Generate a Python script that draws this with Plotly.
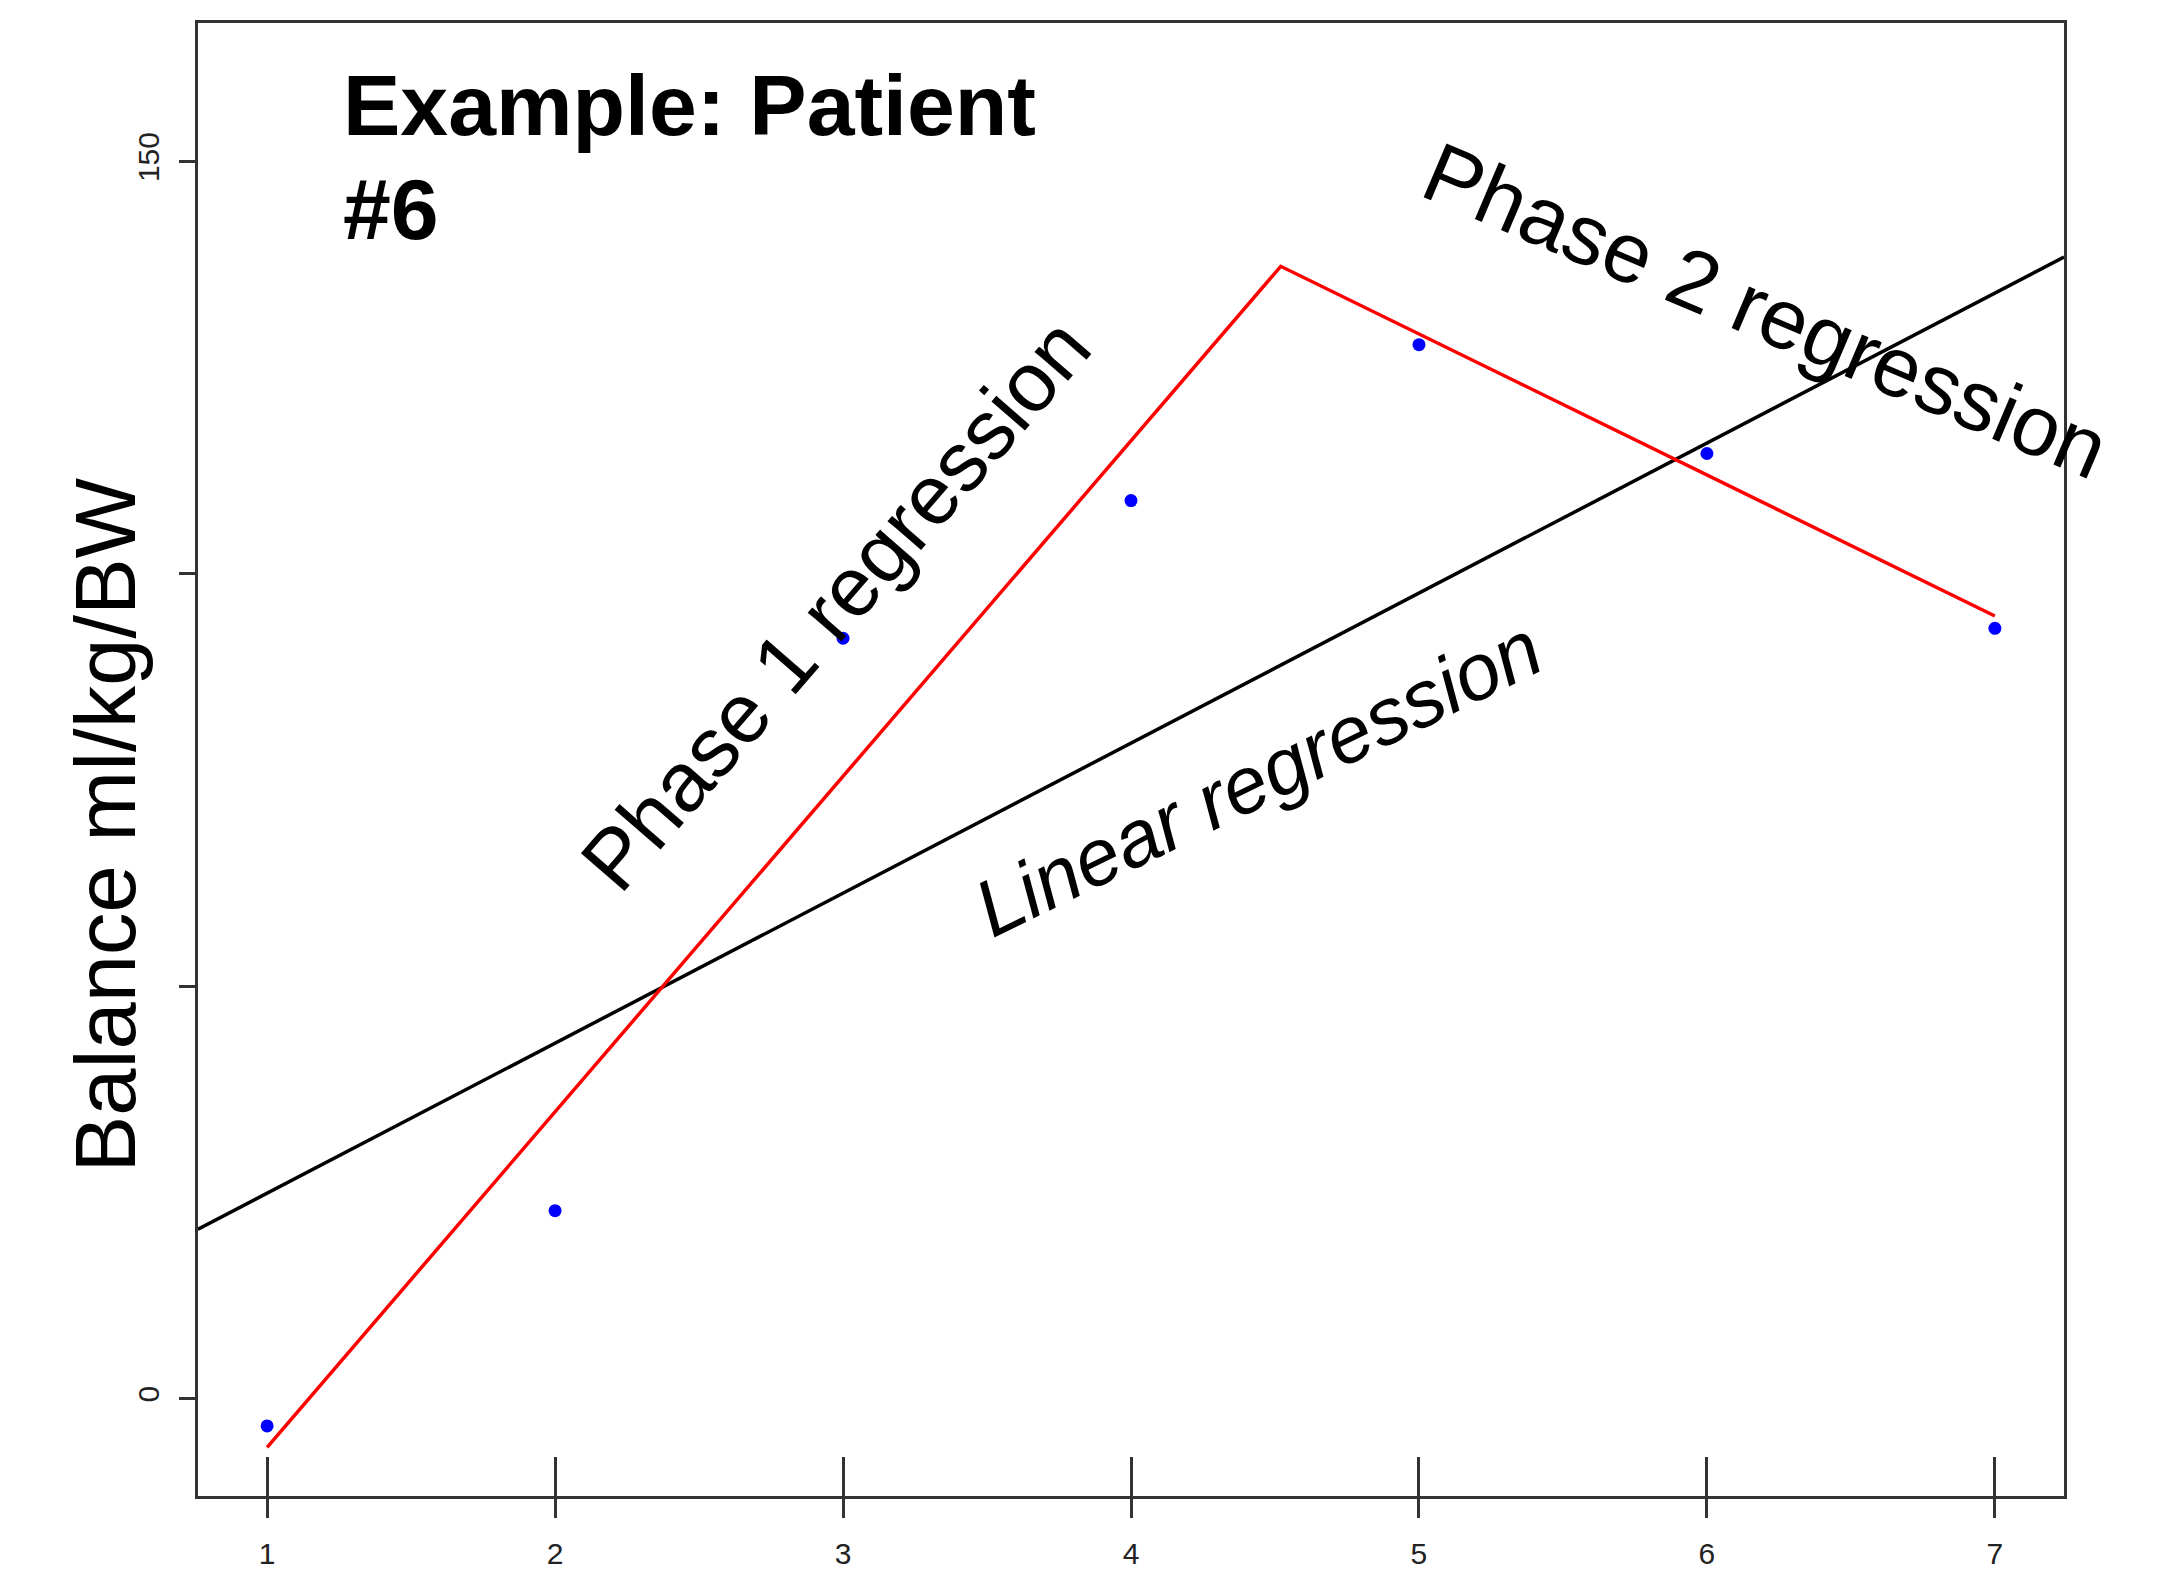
import numpy as np
import plotly.graph_objects as go

# ---- data ----
days = [1, 2, 3, 4, 5, 6, 7]
balance = [-3.3, 22.8, 92.2, 108.9, 127.8, 114.6, 93.4]

# segmented (two-phase) regression vertices
seg_x = [1, 4.52, 7]
seg_y = [-5.9, 137.3, 94.9]

x_ticks = [1, 2, 3, 4, 5, 6, 7]
y_ticks = [0, 50, 100, 150]
y_tick_text = ["0", "", "", "150"]

x_range = [0.76, 7.24]
y_range = [-11.8, 166.8]

# linear regression over all points (abline across plot)
slope, intercept = np.polyfit(days, balance, 1)
lin_x = np.array(x_range)
lin_y = intercept + slope * lin_x

FONT = "Liberation Sans, Arial, sans-serif"
AX = "#333333"

fig = go.Figure()
fig.add_trace(go.Scatter(x=lin_x, y=lin_y, mode="lines",
                         line=dict(color="black", width=3.5), showlegend=False,
                         hoverinfo="skip"))
fig.add_trace(go.Scatter(x=seg_x, y=seg_y, mode="lines",
                         line=dict(color="#ff0000", width=3.5), showlegend=False,
                         hoverinfo="skip"))
fig.add_trace(go.Scatter(x=days, y=balance, mode="markers",
                         marker=dict(color="#0000ff", size=13), showlegend=False))
# invisible trace on overlay axis for inside ticks
fig.add_trace(go.Scatter(x=[x_range[0]], y=[y_range[0]], xaxis="x2", yaxis="y",
                         mode="markers", marker=dict(opacity=0), showlegend=False,
                         hoverinfo="skip"))

fig.update_layout(
    width=2159, height=1573,
    margin=dict(l=198, r=95, t=23, b=77, autoexpand=False),
    plot_bgcolor="white", paper_bgcolor="white",
    font=dict(family=FONT, color="black"),
    xaxis=dict(range=x_range, tickvals=x_ticks, ticks="outside", ticklen=19,
               tickwidth=3, tickcolor=AX, showline=True, linecolor=AX,
               linewidth=3, mirror=True, showgrid=False, zeroline=False,
               ticklabelstandoff=10, automargin=False,
               tickfont=dict(size=30, color="#222222", family=FONT)),
    xaxis2=dict(range=x_range, overlaying="x", side="bottom", tickvals=x_ticks,
                ticks="inside", ticklen=39, tickwidth=3, tickcolor=AX,
                showticklabels=False, showline=False, showgrid=False,
                zeroline=False, automargin=False),
    yaxis=dict(range=y_range, tickvals=y_ticks, ticktext=y_tick_text,
               ticks="outside", ticklen=16, tickwidth=3, tickcolor=AX,
               showline=True, linecolor=AX, linewidth=3, mirror=True,
               showgrid=False, zeroline=False, tickangle=-90,
               ticklabelstandoff=8, automargin=False,
               tickfont=dict(size=30, color="#222222", family=FONT)),
)

fig.add_annotation(text="Balance ml/kg/BW", xref="paper", yref="paper",
                   x=-0.0495, y=0.455, textangle=-90, showarrow=False,
                   font=dict(size=85, family=FONT, color="black"),
                   xanchor="center", yanchor="middle")

fig.add_annotation(text="<b>Example: Patient</b>", xref="paper", yref="paper",
                   x=0.0765, y=0.978,
                   xanchor="left", yanchor="top", align="left", showarrow=False,
                   font=dict(size=86, family=FONT, color="black"))
fig.add_annotation(text="<b>#6</b>", xref="paper", yref="paper",
                   x=0.0765, y=0.908,
                   xanchor="left", yanchor="top", align="left", showarrow=False,
                   font=dict(size=86, family=FONT, color="black"))

fig.add_annotation(text="Phase 1 regression", x=2.975, y=96.3, textangle=-49,
                   showarrow=False, font=dict(size=84, family=FONT, color="black"))
fig.add_annotation(text="Phase 2 regression", x=6.205, y=132.0, textangle=23,
                   showarrow=False, font=dict(size=85, family=FONT, color="black"))
fig.add_annotation(text="<i>Linear regression</i>", x=4.44, y=75.2, textangle=-26,
                   showarrow=False, font=dict(size=80, family=FONT, color="black"))

fig.write_html("out.html")
